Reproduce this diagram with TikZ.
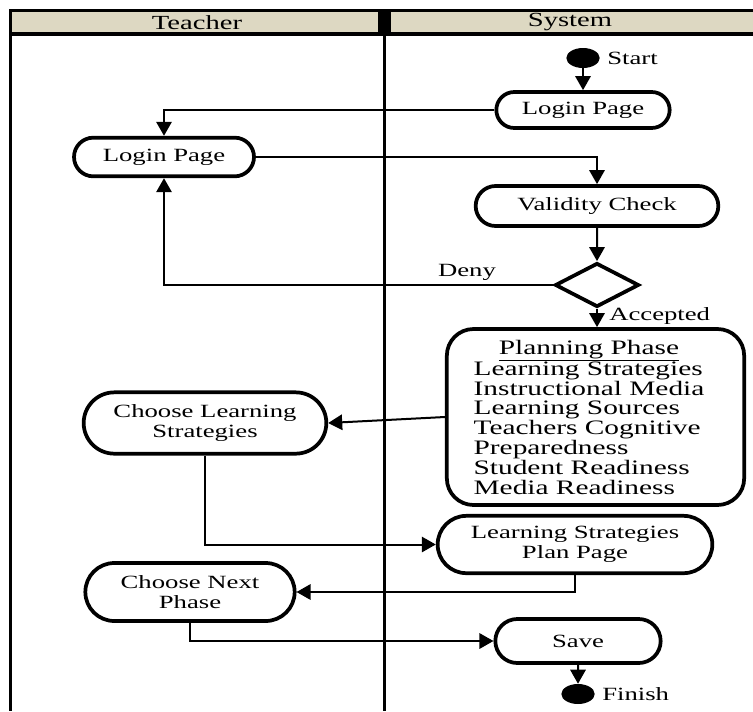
\documentclass[tikz,border=0pt]{standalone}
\usepackage{fontspec}
\setmainfont{Liberation Serif}[FakeStretch=1.43]
\usetikzlibrary{shapes.misc,shapes.geometric,arrows.meta}
\definecolor{hdr}{RGB}{221,216,194}
\begin{document}
\begin{tikzpicture}[x=0.75pt,y=-0.75pt,
  txt/.style={font=\fontsize{14}{14.6}\selectfont},
  act/.style={rounded rectangle, draw, line width=2.8pt, fill=white, align=center, inner sep=1pt, txt},
  conn/.style={line width=1.5pt, -{Triangle[length=10.5pt,width=11.5pt]}},
  lbl/.style={txt, inner sep=0pt},
  hlbl/.style={font=\fontsize{15}{16}\selectfont, inner sep=0pt},
  blob/.style={ellipse, fill=black, minimum width=25pt, minimum height=15pt, inner sep=0pt}]
\useasboundingbox (0,0) rectangle (753,711);
% swimlane frame
\fill[hdr] (10,10.5) rectangle (753,34);
\draw[line width=2.6pt] (9,10.5) -- (753,10.5);
\draw[line width=2.6pt] (9,34) -- (753,34);
\fill (378,9) rectangle (391,35.5);
\draw[line width=2.4pt] (10.5,9) -- (10.5,711);
\draw[line width=2.2pt] (384.5,34) -- (384.5,711);
\node[hlbl] (hT) at (197,22.5) {Teacher};
\node[hlbl] (hS) at (570,22.5) {System};
% nodes
\node[blob] (start) at (583,58) {};
\node[lbl, anchor=west] (startlbl) at (607,58) {Start};
\node[act, minimum width=132pt, minimum height=27pt] (loginS) at (583,110) {Login Page};
\node[act, minimum width=137pt, minimum height=29pt] (loginT) at (164,157) {Login Page};
\node[act, minimum width=184pt, minimum height=30pt] (valid) at (597,206) {Validity Check};
\node[diamond, draw, line width=2.8pt, fill=white, minimum width=63pt, minimum height=33pt, inner sep=0pt] (dec) at (597,285) {};
\node[lbl] (deny) at (467,272) {Deny};
\node[lbl, anchor=west] (acc) at (609,316) {Accepted};
\node[draw, line width=2.8pt, rounded corners=20pt, fill=white, minimum width=223pt, minimum height=132pt, inner sep=0pt] (plan) at (595.5,417) {};
\node[inner sep=0pt, font=\fontsize{15.4}{14.3}\selectfont] (plantext) at (589,420) {\begin{tabular}{@{}l@{}}\multicolumn{1}{@{}c@{}}{\underline{Planning Phase}}\\ Learning Strategies\\ Instructional Media\\ Learning Sources\\ Teachers Cognitive\\ Preparedness\\ Student Readiness\\ Media Readiness\end{tabular}};
\node[act, minimum width=184pt, minimum height=46pt] (cls) at (205,423) {Choose Learning\\Strategies};
\node[act, minimum width=208pt, minimum height=43pt] (lspp) at (575,544.5) {Learning Strategies\\Plan Page};
\node[act, minimum width=159pt, minimum height=43.5pt] (cnp) at (190,592) {Choose Next\\Phase};
\node[act, minimum width=126pt, minimum height=33pt] (save) at (578,641) {Save};
\node[blob] (fin) at (578,694) {};
\node[lbl, anchor=west] (finlbl) at (602,694) {Finish};
% connectors
\draw[conn] (start) -- (loginS);
\draw[conn] (loginS.west) -| (loginT.north);
\draw[conn] (loginT.east) -| (valid.north);
\draw[conn] (valid) -- (dec);
\draw[conn] (dec.west) -| (loginT.south);
\draw[conn] (dec.south) -- (dec.south |- plan.north);
\draw[conn] (plan.west) -- (cls.east);
\draw[conn] (cls.south) |- (lspp.west);
\draw[conn] (lspp.south) |- (cnp.east);
\draw[conn] (cnp.south) |- (save.west);
\draw[conn] (save) -- (fin);
\end{tikzpicture}
\end{document}
